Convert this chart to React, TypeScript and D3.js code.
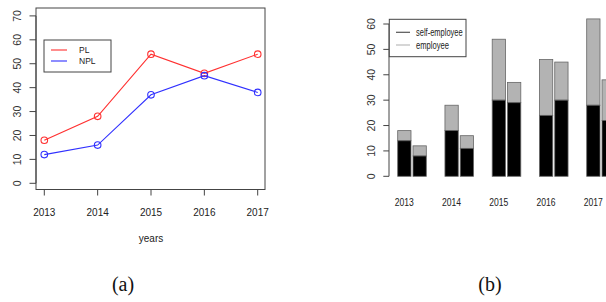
import React from "react";
import { scaleLinear, line } from "d3";

const years = [2013, 2014, 2015, 2016, 2017];
const plValues = [18, 28, 54, 46, 54];
const nplValues = [12, 16, 37, 45, 38];
const leftTicks = [0, 10, 20, 30, 40, 50, 60, 70];

// bars: two stacked bars per year (total, black part)
const bar1Total = [18, 28, 54, 46, 62];
const bar1Self = [14, 18, 30, 24, 28];
const bar2Total = [12, 16, 37, 45, 38];
const bar2Self = [8, 11, 29, 30, 22];
const rightTicks = [0, 10, 20, 30, 40, 50, 60];

const font = "Liberation Sans, Arial, sans-serif";
const axisColor = "#444";

function LeftChart() {
  const x = scaleLinear().domain([2013, 2017]).range([44.3, 257.7]);
  const y = scaleLinear().domain([0, 70]).range([183.3, 15.9]);
  const mk = line<number>()
    .x((d, i) => x(years[i]))
    .y((d) => y(d));
  const series = [
    { vals: plValues, color: "#ff3030", name: "PL" },
    { vals: nplValues, color: "#3030ff", name: "NPL" },
  ];
  return (
    <g>
      <rect x={36} y={8} width={229} height={181.5} fill="none" stroke={axisColor} strokeWidth={1} />
      {series.map((s) => (
        <g key={s.name}>
          <path d={mk(s.vals) || ""} fill="none" stroke={s.color} strokeWidth={1.1} />
          {s.vals.map((v, i) => (
            <circle key={i} cx={x(years[i])} cy={y(v)} r={3.3} fill="none" stroke={s.color} strokeWidth={1.1} />
          ))}
        </g>
      ))}
      {leftTicks.map((t) => (
        <g key={t}>
          <line x1={29.5} x2={36} y1={y(t)} y2={y(t)} stroke={axisColor} />
          <text
            transform={`translate(20.5,${y(t)}) rotate(-90)`}
            textAnchor="middle"
            fontSize={10.5}
            fontFamily={font}
            fill="#333"
          >
            {t}
          </text>
        </g>
      ))}
      <line x1={36} x2={36} y1={y(0)} y2={y(70)} stroke={axisColor} />
      {years.map((yr) => (
        <g key={yr}>
          <line x1={x(yr)} x2={x(yr)} y1={189.5} y2={195.5} stroke={axisColor} />
          <text x={x(yr)} y={215.5} textAnchor="middle" fontSize={10} fontFamily={font} fill="#222">
            {yr}
          </text>
        </g>
      ))}
      <text x={151} y={241.5} textAnchor="middle" fontSize={10} fontFamily={font} fill="#222">
        years
      </text>
      <rect x={44} y={40} width={67} height={32} fill="white" stroke={axisColor} />
      {series.map((s, i) => (
        <g key={s.name}>
          <line x1={51} x2={67} y1={50 + i * 11} y2={50 + i * 11} stroke={s.color} strokeWidth={1.1} />
          <text x={79} y={53 + i * 11} fontSize={8.5} fontFamily={font} fill="#222">
            {s.name}
          </text>
        </g>
      ))}
    </g>
  );
}

function RightChart() {
  const x = scaleLinear().domain([0, 4]).range([397.7, 586.7]);
  const y = scaleLinear().domain([0, 60]).range([176.3, 24]);
  const bw = 13.3;
  const off = 15.3;
  const grey = "#b3b3b3";
  const edge = "#666";
  const bars = years.flatMap((yr, i) => [
    { key: yr + "a", x0: x(i), total: bar1Total[i], self: bar1Self[i] },
    { key: yr + "b", x0: x(i) + off, total: bar2Total[i], self: bar2Self[i] },
  ]);
  return (
    <g>
      <defs>
        <clipPath id="rclip">
          <rect x={330} y={0} width={276} height={260} />
        </clipPath>
      </defs>
      <g clipPath="url(#rclip)">
        {bars.map((b) => (
          <g key={b.key}>
            <rect x={b.x0} y={y(b.total)} width={bw} height={y(b.self) - y(b.total)} fill={grey} stroke={edge} strokeWidth={0.8} />
            <rect x={b.x0} y={y(b.self)} width={bw} height={y(0) - y(b.self)} fill="#000" stroke={edge} strokeWidth={0.8} />
          </g>
        ))}
      </g>
      <line x1={389} x2={389} y1={y(0)} y2={y(60)} stroke={axisColor} />
      {rightTicks.map((t) => (
        <g key={t}>
          <line x1={383.3} x2={389} y1={y(t)} y2={y(t)} stroke={axisColor} />
          <text
            transform={`translate(375.3,${y(t)}) rotate(-90)`}
            textAnchor="middle"
            fontSize={10.5}
            fontFamily={font}
            fill="#333"
          >
            {t}
          </text>
        </g>
      ))}
      {years.map((yr, i) => (
        <text
          key={yr}
          transform={`translate(${x(i) + bw / 2},205.5) scale(0.78,1)`}
          textAnchor="middle"
          fontSize={11}
          fontFamily={font}
          fill="#222"
        >
          {yr}
        </text>
      ))}
      <rect x={389.3} y={19.3} width={76.7} height={37.4} fill="white" stroke={axisColor} />
      <line x1={396} x2={410} y1={32.3} y2={32.3} stroke="#555" strokeWidth={1.2} />
      <line x1={396} x2={410} y1={45} y2={45} stroke="#bbb" strokeWidth={1.2} />
      <text x={416} y={35.5} fontSize={10} fontFamily={font} fill="#222" textLength={46.7} lengthAdjust="spacingAndGlyphs">
        self-employee
      </text>
      <text x={416} y={48.5} fontSize={10} fontFamily={font} fill="#222" textLength={33} lengthAdjust="spacingAndGlyphs">
        employee
      </text>
    </g>
  );
}

export default function App() {
  return (
    <svg
      width={606}
      height={302}
      style={{ position: "absolute", left: 0, top: 0, background: "white" }}
    >
      <LeftChart />
      <RightChart />
      <text x={123} y={291} textAnchor="middle" fontSize={20} fontFamily="Liberation Serif, Times New Roman, serif" fill="#111">
        (a)
      </text>
      <text x={490} y={291} textAnchor="middle" fontSize={20} fontFamily="Liberation Serif, Times New Roman, serif" fill="#111">
        (b)
      </text>
    </svg>
  );
}
